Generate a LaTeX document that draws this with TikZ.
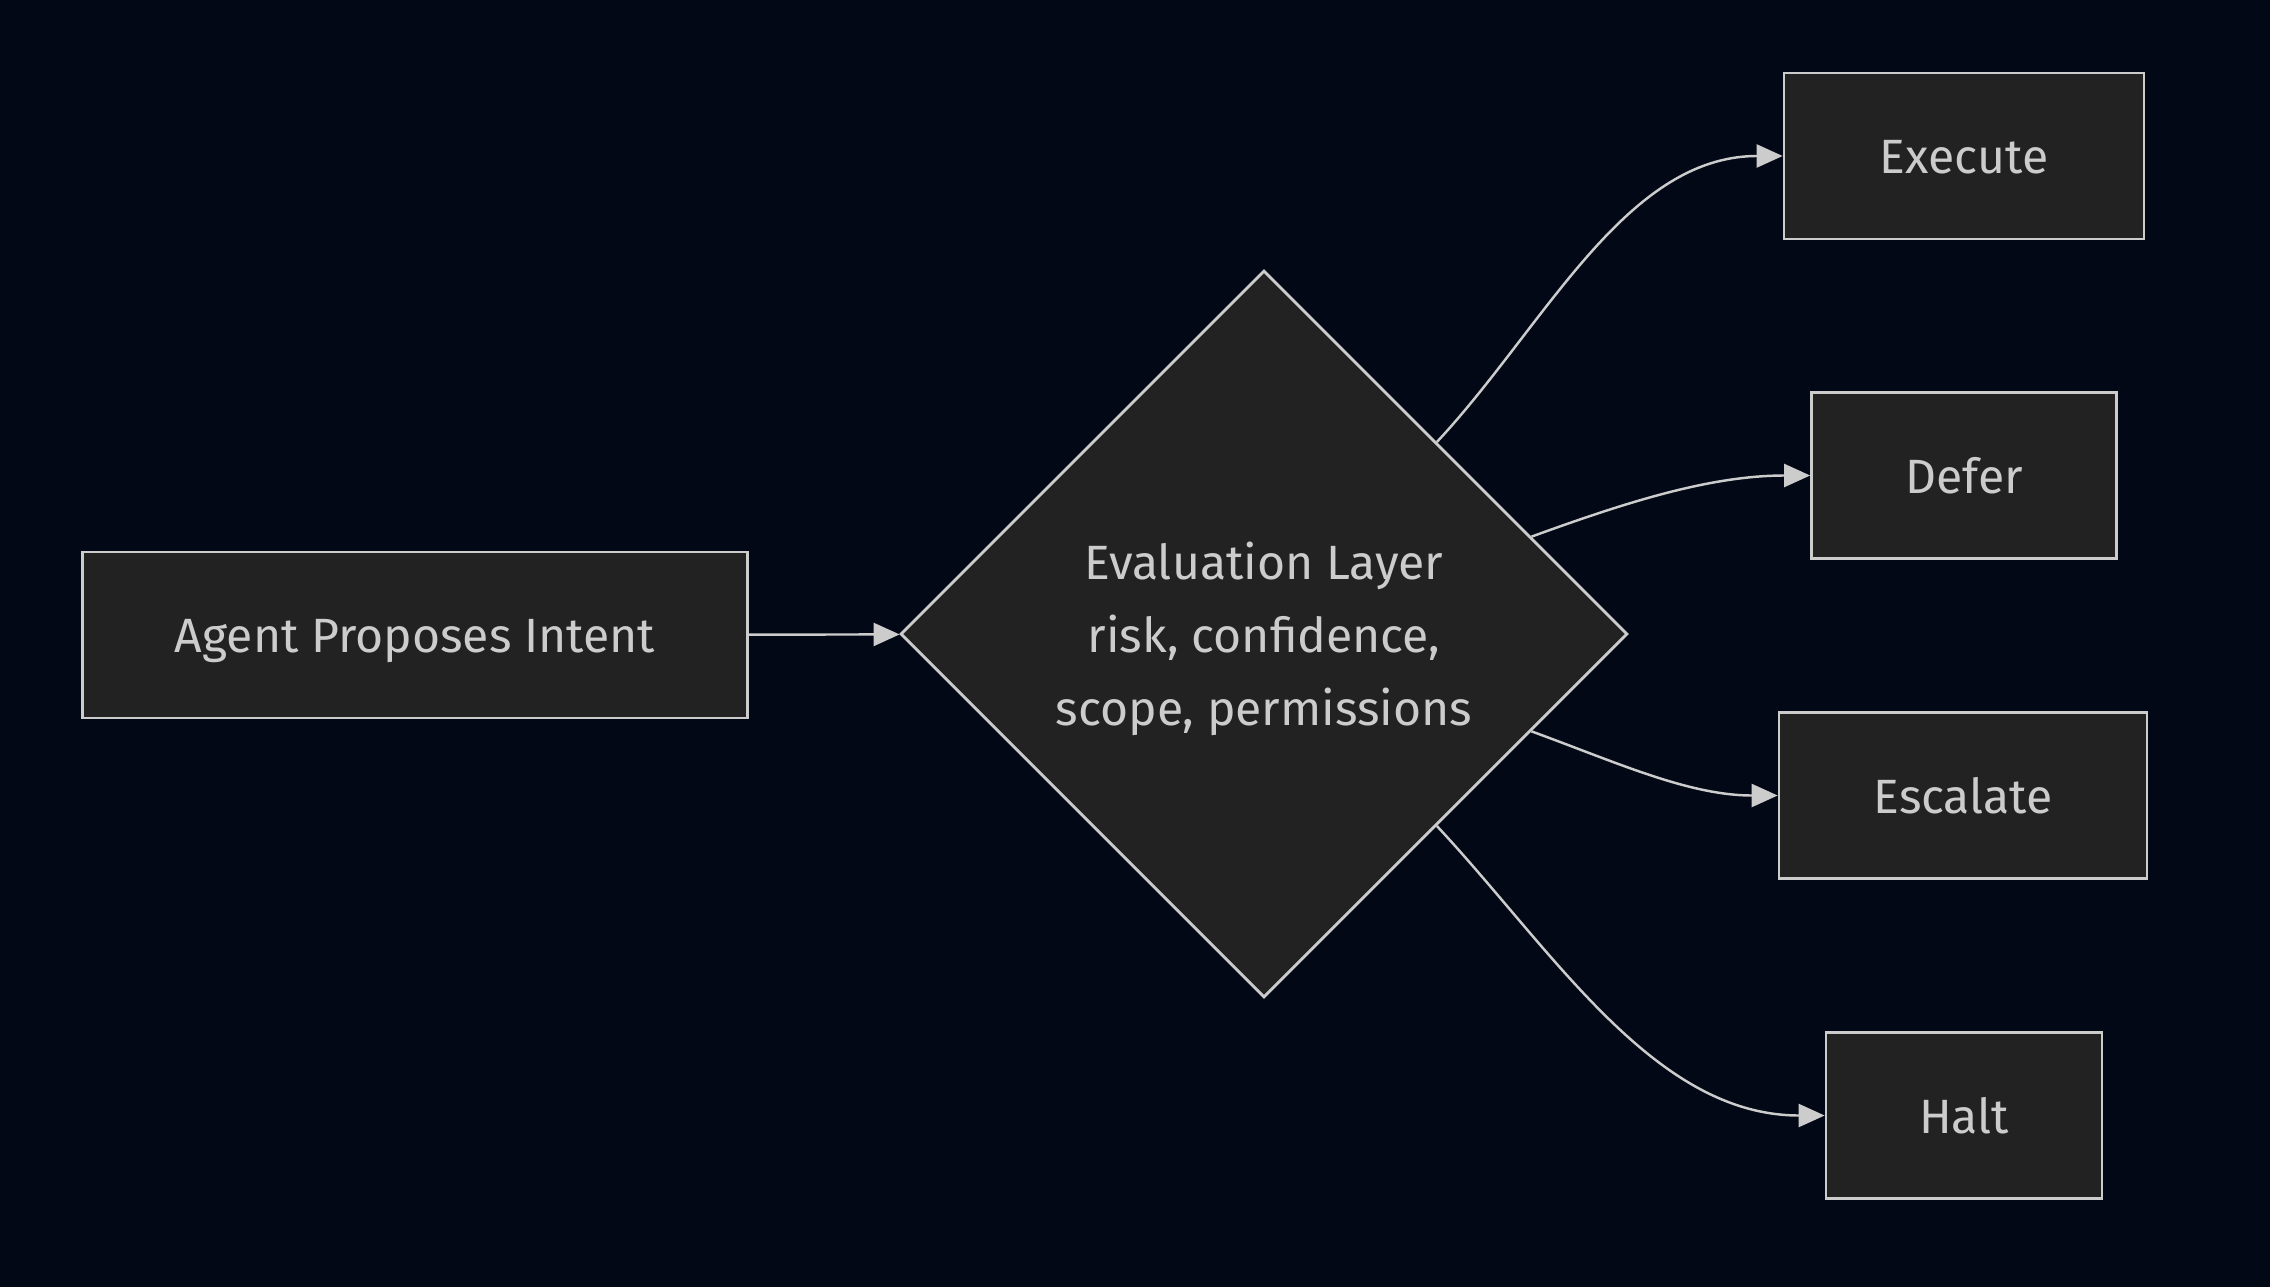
\documentclass[tikz,border=0pt]{standalone}
\usepackage{fontspec}
\setmainfont{Fira Sans}
\usetikzlibrary{shapes.geometric,arrows.meta}
\definecolor{bgnavy}{HTML}{020816}
\definecolor{boxfill}{HTML}{212221}
\definecolor{lineclr}{HTML}{CCCCCC}
\begin{document}
\begin{tikzpicture}[x=0.02cm,y=-0.02cm,
    box/.style={draw=lineclr,fill=boxfill,line width=1.6pt,minimum height=3.32cm,
      text=lineclr,font=\fontsize{27.4}{42}\selectfont,inner sep=0pt,
      text height=20.4pt,text depth=0pt},
    decide/.style={diamond,draw=lineclr,fill=boxfill,line width=1.6pt,
      minimum width=14.54cm,minimum height=14.54cm,inner sep=0pt,aspect=1,
      text=lineclr,align=center,font=\fontsize{27.4}{41.5}\selectfont,text depth=0pt},
    edge/.style={draw=lineclr,line width=1.4pt,-{Triangle[length=0.52cm,width=0.46cm]}}]
      \fill[bgnavy] (0,0) rectangle (2270,1287);
      \useasboundingbox (0,0) rectangle (2270,1287);

      \node[box,minimum width=13.3cm] (agent) at (415,635) {Agent Proposes Intent};
      \node[decide] (eval) at (1264,634) {Evaluation Layer\\risk, confidence,\\scope, permissions};
      \node[box,minimum width=7.2cm] (exec) at (1964,156) {Execute};
      \node[box,minimum width=6.1cm] (defer) at (1964,475.5) {Defer};
      \node[box,minimum width=7.36cm] (escal) at (1963,795.5) {Escalate};
      \node[box,minimum width=5.52cm] (halt) at (1964,1115.5) {Halt};

      \draw[edge] (agent) -- (eval);
      \draw[edge] (eval.48) to[out=47, in=180, looseness=0.9] (exec.west);
      \draw[edge] (eval.20) to[out=20, in=180, looseness=0.9] (defer.west);
      \draw[edge] (eval.-20) to[out=-20, in=180, looseness=0.9] (escal.west);
      \draw[edge] (eval.-48) to[out=-47, in=180, looseness=0.9] (halt.west);
    \end{tikzpicture}
\end{document}
